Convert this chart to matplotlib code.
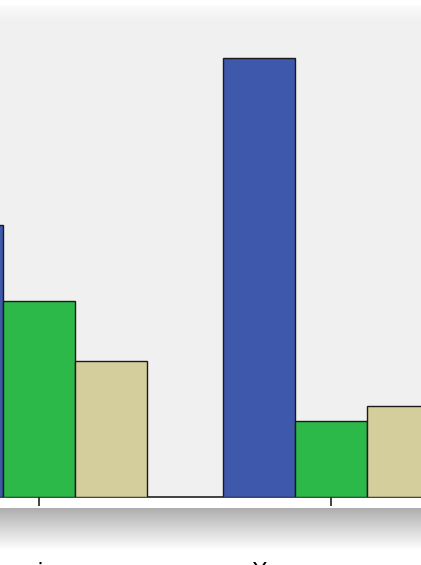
import numpy as np
import matplotlib.pyplot as plt

groups = ["seniors", "Young women"]
blue_vals = [272, 439]
green_vals = [196, 76]
tan_vals = [136, 91]

W, H = 421, 565
fig = plt.figure(figsize=(W / 100, H / 100), dpi=100)
fig.patch.set_facecolor("white")

# main plot area: 1 data unit in y == 1 pixel
base_px = 496.5
ax = fig.add_axes([0, 1 - base_px / H, 1, base_px / H])
ax.set_facecolor("#f0f0f0")

x = np.arange(len(groups))
w = 72 / 292
bar_kw = dict(width=w, edgecolor="#1a1a1a", linewidth=1.0, zorder=3)
ax.bar(x - w, blue_vals, color="#3e58ac", **bar_kw)
ax.bar(x, green_vals, color="#2db84a", **bar_kw)
ax.bar(x + w, tan_vals, color="#d3ce9b", **bar_kw)

ax.set_xlim(-39 / 292, 1 + 90 / 292)
ax.set_ylim(0, base_px)
for s in ["top", "left", "right"]:
    ax.spines[s].set_visible(False)
ax.spines["bottom"].set_color("#222222")
ax.spines["bottom"].set_linewidth(1.2)
ax.set_yticks([])
ax.set_xticks(x)
# labels sit mostly below the crop, as in the reference
ax.set_xticklabels(groups, fontsize=16)
ax.tick_params(axis="x", length=6.5, width=1.2, color="#222222", pad=41)

# soft fade at top of the plot area
top = fig.add_axes([0, 1 - 22 / H, 1, 22 / H])
grad = np.linspace(1.0, 0.941, 100).reshape(-1, 1)
grad[:25] = 1.0
top.imshow(np.dstack([grad] * 3), aspect="auto", extent=[0, 1, 0, 1])
top.axis("off")

# drop shadow under the axis strip
sh = fig.add_axes([0, 1 - 550 / H, 1, 42 / H])
g = np.linspace(0.62, 1.0, 100) ** 0.8
g = g.reshape(-1, 1)
sh.imshow(np.dstack([g] * 3), aspect="auto", extent=[0, 1, 0, 1], vmin=0, vmax=1)
sh.axis("off")

fig.savefig("out.png", dpi=100, facecolor="white")
